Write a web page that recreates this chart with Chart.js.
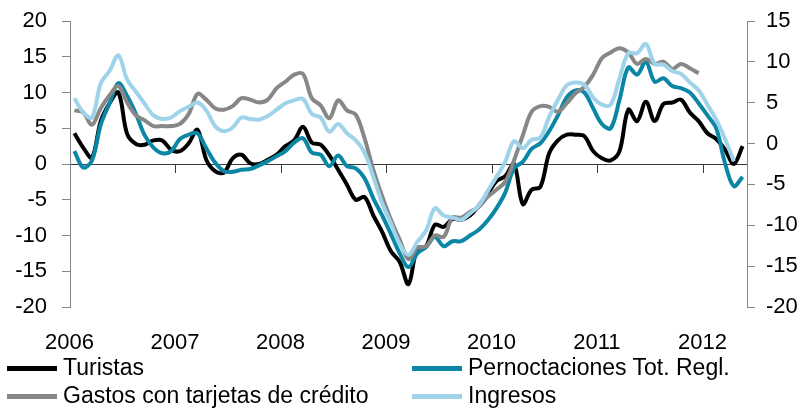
<!DOCTYPE html>
<html lang="es">
<head>
<meta charset="utf-8">
<title>Turistas, pernoctaciones, gastos e ingresos</title>
<script src="https://cdn.jsdelivr.net/npm/chart.js@4.4.1/dist/chart.umd.min.js"></script>
<style>
  html, body { margin: 0; padding: 0; background: #fff; }
  #wrap { position: relative; width: 798px; height: 408px; overflow: hidden; }
  #chart { position: absolute; left: 0; top: 0; }
  .lg-item { position: absolute; white-space: nowrap; }
  .lg-sw { position: absolute; left: 0; width: 50px; height: 5px; }
  .lg-txt { position: absolute; left: 56px; top: 0; font: 23px "Liberation Sans", Arial, sans-serif; line-height: 26px; color: #000; }
</style>
</head>
<body>
<div id="wrap">
  <canvas id="chart" width="798" height="408"></canvas>
  <div id="legend"></div>
</div>
<script>
// ===========================================================================
//  Tasas de variación interanual (%), enero 2006 – mayo 2012
// ---------------------------------------------------------------------------
//  Cuatro series mensuales; eje izquierdo -20..20, eje derecho -20..15.
// ===========================================================================

const years = ['2006', '2007', '2008', '2009', '2010', '2011', '2012'];
const monthsInLastYear = 5;   // hasta mayo 2012

const turistas = [
  4.3, 2.3, 0.9, 6.0, 8.5, 10.0, 4.2, 2.8, 2.7, 3.3, 3.3, 2.0,
  1.8, 2.9, 4.8, 0.6, -1.0, -1.2, 0.8, 1.3, 0.1, 0.0, 0.6, 1.3,
  2.5, 3.3, 5.2, 3.0, 2.7, 1.2, -0.8, -2.9, -5.0, -4.6, -7.2, -9.5,
  -12.2, -13.7, -16.8, -11.8, -11.5, -8.5, -8.8, -7.7, -7.8, -7.2, -5.8, -4.2,
  -2.4, -1.7, 0.0, -5.6, -3.6, -3.2, 1.5, 3.3, 4.1, 4.1, 3.9, 1.8,
  0.8, 0.5, 1.8, 7.6, 6.0, 8.7, 6.0, 8.4, 8.6, 9.0, 7.2, 6.0,
  4.3, 3.5, 2.0, 0.0, 2.5,
];

const pernoctaciones = [
  1.8, -0.5, 0.5, 5.5, 8.5, 11.3, 9.5, 7.0, 4.0, 2.3, 1.5, 1.8,
  3.5, 4.1, 4.3, 2.2, 0.2, -1.0, -1.1, -0.8, -0.7, -0.2, 0.4, 1.1,
  1.8, 3.0, 3.6, 1.6, 1.3, -0.3, 1.2, -0.3, -0.6, -2.0, -4.8, -7.2,
  -9.8, -12.5, -14.4, -12.5, -11.6, -10.2, -11.5, -10.8, -10.8, -10.0, -9.2, -7.9,
  -6.2, -4.0, -0.6, 0.3, 2.1, 2.9, 4.6, 6.8, 9.3, 10.3, 10.0, 7.8,
  5.6, 5.0, 9.0, 13.5, 12.5, 14.3, 11.5, 12.0, 10.9, 10.6, 10.0, 8.5,
  6.8, 5.0, 0.1, -3.1, -1.8,
];

const gastosTarjetas = [
  7.5, 7.2, 5.5, 7.8, 9.6, 10.9, 8.6, 6.8, 6.1, 5.3, 5.3, 5.3,
  5.6, 7.0, 9.8, 9.0, 7.8, 7.6, 8.1, 9.2, 9.0, 8.6, 9.0, 10.6,
  11.5, 12.5, 12.6, 9.2, 8.2, 6.4, 8.9, 7.5, 6.9, 3.6, -0.8, -4.5,
  -7.8, -10.6, -13.3, -11.7, -11.5, -10.0, -10.2, -7.5, -7.5, -6.7, -6.0, -4.6,
  -3.6, -2.5, 0.5, 4.0, 7.3, 8.1, 8.0, 7.3, 8.5, 9.9, 10.8, 12.5,
  14.8, 15.6, 16.2, 15.6, 14.0, 14.7, 14.0, 14.3, 13.3, 14.0, 13.4, 12.7,
  null, null, null, null, null,
];

const ingresos = [
  9.2, 7.2, 6.5, 11.3, 13.0, 15.2, 11.8, 10.1, 8.4, 6.8, 6.3, 6.5,
  7.4, 8.0, 8.6, 7.5, 5.3, 4.6, 5.1, 6.5, 6.3, 6.2, 6.7, 7.6,
  8.5, 8.9, 9.1, 7.0, 6.5, 4.5, 5.6, 4.3, 3.3, 1.6, -1.8, -5.5,
  -8.3, -11.2, -12.7, -10.9, -9.3, -6.2, -7.2, -7.5, -7.8, -6.9, -5.8, -3.8,
  -1.8, 0.3, 3.2, 2.2, 3.4, 3.7, 6.6, 9.0, 11.0, 11.4, 11.1, 9.3,
  8.3, 8.3, 12.0, 15.5, 15.5, 16.8, 14.0, 13.9, 13.0, 12.6, 11.4, 10.3,
  8.3, 6.2, 3.5, 0.4, null,
];

const leftTicks = { min: -20, max: 20, step: 5 };
const rightTicks = { min: -20, max: 15, step: 5 };

// Etiquetas mensuales "AAAA-MM" (una categoría por mes).
const labels = [];
years.forEach((y, k) => {
  const n = k === years.length - 1 ? monthsInLastYear : 12;
  for (let m = 1; m <= n; m++) labels.push(`${y}-${String(m).padStart(2, '0')}`);
});

const FONT = { family: '"Liberation Sans", Arial, sans-serif', size: 22 };
const AXIS = '#868686';
const ZERO = '#3a3a3a';

const series = [
  { label: 'Turistas', data: turistas, color: '#000000' },
  { label: 'Pernoctaciones Tot. Regl.', data: pernoctaciones, color: '#0b87a5' },
  { label: 'Gastos con tarjetas de crédito', data: gastosTarjetas, color: '#878787' },
  { label: 'Ingresos', data: ingresos, color: '#9fd3ea' },
];

// Ancho fijo del eje vertical y sin relleno extra arriba/abajo.
function fixY(width) {
  return (s) => { s.width = width; s.paddingTop = 0; s.paddingBottom = 0; };
}

new Chart(document.getElementById('chart'), {
  type: 'line',
  data: {
    labels,
    datasets: series.map((s, i) => ({
      label: s.label,
      data: s.data,
      borderColor: s.color,
      backgroundColor: s.color,
      borderWidth: 4,
      pointRadius: 0,
      tension: 0.35,
      spanGaps: false,
      xAxisID: 'x',
      yAxisID: 'y',
      order: series.length - i,   // la última serie queda encima, como en Excel
    })),
  },
  options: {
    responsive: false,
    animation: false,
    devicePixelRatio: 1,
    layout: { padding: { top: 21, left: 0, right: 0, bottom: 0 } },
    plugins: { legend: { display: false }, tooltip: { enabled: false } },
    scales: {
      x: {
        type: 'category',
        position: 'bottom',
        offset: true,
        grid: { display: false, drawTicks: false },
        border: { display: false },
        ticks: {
          autoSkip: false, maxRotation: 0, minRotation: 0, padding: 23,
          color: '#000', font: FONT, labelOffset: -5,
          callback: (v, i) => (i % 12 === 0 ? labels[i].slice(0, 4) : ''),
        },
        afterFit: (s) => { s.height = 101; },
      },
      // Eje de categorías que cruza en 0 (línea + marcas de año).
      xZero: {
        type: 'category',
        position: { y: 0 },
        offset: true,
        grid: {
          display: true, offset: true, drawOnChartArea: false, drawTicks: true, tickLength: 8,
          color: (c) => (c.index % 12 === 0 ? ZERO : 'rgba(0,0,0,0)'),
        },
        border: { display: true, color: ZERO, width: 1 },
        ticks: { display: false },
      },
      y: {
        position: 'left',
        min: leftTicks.min, max: leftTicks.max,
        ticks: { stepSize: leftTicks.step, color: '#000', font: FONT, padding: 15 },
        grid: { drawOnChartArea: false, drawTicks: true, tickLength: 8, color: AXIS },
        border: { display: true, color: AXIS, width: 1 },
        afterFit: fixY(70),
      },
      y1: {
        position: 'right',
        min: rightTicks.min, max: rightTicks.max,
        ticks: { stepSize: rightTicks.step, color: '#000', font: FONT, padding: 11 },
        grid: { drawOnChartArea: false, drawTicks: true, tickLength: 8, color: AXIS },
        border: { display: true, color: AXIS, width: 1 },
        afterFit: fixY(51),
      },
    },
  },
});

// Leyenda en dos columnas bajo el gráfico.
const legendCols = [7, 412];
const legendRows = [368, 396];
const legend = document.getElementById('legend');
series.forEach((s, i) => {
  const item = document.createElement('div');
  item.className = 'lg-item';
  item.style.left = legendCols[i % 2] + 'px';
  item.style.top = (legendRows[Math.floor(i / 2)] - 14) + 'px';
  item.innerHTML = `<div class="lg-sw" style="top:11.5px;background:${s.color}"></div>`
    + `<div class="lg-txt">${s.label}</div>`;
  legend.appendChild(item);
});
</script>
</body>
</html>
